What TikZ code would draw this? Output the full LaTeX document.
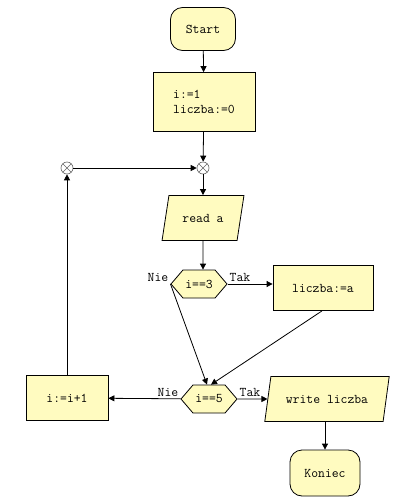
\documentclass[tikz,border=0pt]{standalone}
\usepackage{fontspec}
\usetikzlibrary{arrows.meta}
\usetikzlibrary{shapes.geometric}
\usetikzlibrary{shapes.symbols}
\definecolor{boxfill}{RGB}{255,251,192}
\begin{document}
\begin{tikzpicture}[x=1pt, y=-1pt,
                every node/.style={font=\ttfamily\fontsize{13.3}{15}\selectfont},
                base/.style={draw=black, line width=0.8pt, fill=boxfill},
                terminal/.style={base, rounded corners=12pt, minimum width=65pt, minimum height=43pt},
                process/.style={base, minimum width=#1, minimum height=45pt},
                io/.style={base, trapezium, trapezium left angle=72, trapezium right angle=108,
                           trapezium stretches=true, minimum width=#1, minimum height=45pt},
                decision/.style={base, signal, signal to=east and west, signal pointer angle=99,
                           minimum width=56pt, minimum height=28pt, inner xsep=1pt},
                junction/.style={circle, draw=black!60, fill=white, line width=0.6pt, minimum size=12pt, inner sep=0pt,
                           path picture={\draw[black!60, line width=0.6pt]
                           (path picture bounding box.south west) -- (path picture bounding box.north east)
                           (path picture bounding box.north west) -- (path picture bounding box.south east);}},
                answer/.style={inner sep=2pt},
                arr/.style={line width=0.8pt, -{Triangle[length=6pt, width=6pt]}}]
                \path[use as bounding box, fill=white] (0,0) rectangle (413,504);
                \node[terminal] (start) at (203,29) {Start};
                \node[process=102pt, minimum height=59pt, align=left] (init) at (204,102) {i:=1\\liczba:=0};
                \node[junction] (loop) at (203,168) {};
                \node[junction] (back) at (67,168) {};
                \node[io=82pt] (read) at (203,218) {read a};
                \node[decision] (check3) at (199,284) {i==3};
                \node[process=100pt] (assign) at (323,288) {liczba:=a};
                \node[decision] (check5) at (209,399) {i==5};
                \node[process=82pt] (incr) at (67,398) {i:=i+1};
                \node[io=125pt] (write) at (327,399) {write liczba};
                \node[terminal, minimum width=70pt, minimum height=46pt] (stop) at (325,473) {Koniec};
                \node[answer, anchor=south east] (nie3) at (check3.west) {Nie};
                \node[answer, anchor=south west] (tak3) at (check3.east) {Tak};
                \node[answer, anchor=south east] (nie5) at (check5.west) {Nie};
                \node[answer, anchor=south west] (tak5) at (check5.east) {Tak};
                \draw[arr] (start) -- (init);
                \draw[arr] (init) -- (loop);
                \draw[arr] (back) -- (loop);
                \draw[arr] (loop) -- (read);
                \draw[arr] (read) -- (read |- check3.north);
                \draw[arr] (check3.east) -- (check3.east -| assign.west);
                \draw[arr] (check3.west) -- ([xshift=-2pt]check5.north);
                \draw[arr] ([xshift=-1pt]assign.south) -- ([xshift=2pt]check5.north);
                \draw[arr] (check5) -- (incr);
                \draw[arr] (check5) -- (write);
                \draw[arr] (write.south -| stop.north) -- (stop);
                \draw[arr] (incr) -- (back);
            \end{tikzpicture}
\end{document}
